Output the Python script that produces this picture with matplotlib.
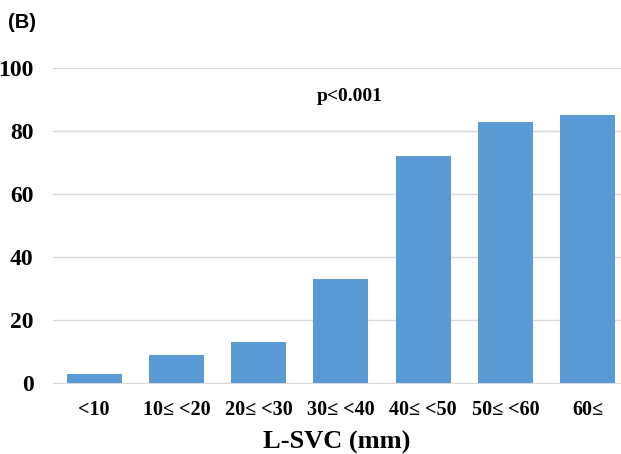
import matplotlib
matplotlib.use("Agg")
import matplotlib.pyplot as plt

categories = ["<10", "10≤ <20", "20≤ <30", "30≤ <40", "40≤ <50", "50≤ <60", "60≤"]
values = [3, 9, 13, 33, 72, 83, 85]
yticks = [0, 20, 40, 60, 80, 100]

serif = ["Liberation Serif", "DejaVu Serif"]

fig = plt.figure(figsize=(6.21, 4.54), dpi=100)
ax = fig.add_axes([53/621, 71/454, 568/621, 315/454])

x = list(range(len(categories)))
ax.bar(x, values, width=0.67, color="#5B9BD5", zorder=3)

ax.set_xlim(-0.5, -0.5 + 568/82.25)
ax.set_ylim(0, 100)
ax.set_yticks(yticks)
ax.set_yticklabels([str(t) for t in yticks], family=serif, fontweight="bold", fontsize=17)
ax.set_xticks(x)
ax.set_xticklabels(categories, family=serif, fontweight="bold", fontsize=14.5)
ax.tick_params(axis="y", length=0, pad=14)
ax.tick_params(axis="x", length=0, pad=12)
ax.grid(axis="y", color="#D9D9D9", linewidth=1, zorder=0)
for s in ["top", "right", "left"]:
    ax.spines[s].set_visible(False)
ax.spines["bottom"].set_color("#D9D9D9")
ax.spines["bottom"].set_zorder(1)

ax.set_xlabel("L-SVC (mm)", family=serif, fontweight="bold", fontsize=19, labelpad=8)
ax.text(3.11, 90.8, "p<0.001", family=serif, fontweight="bold", fontsize=14,
        ha="center", va="center")
fig.text(8/621, 1 - 22/454, "(B)", family=["Liberation Sans", "DejaVu Sans"],
         fontweight="bold", fontsize=14.5, ha="left", va="center")

fig.savefig("out.png", dpi=100)
